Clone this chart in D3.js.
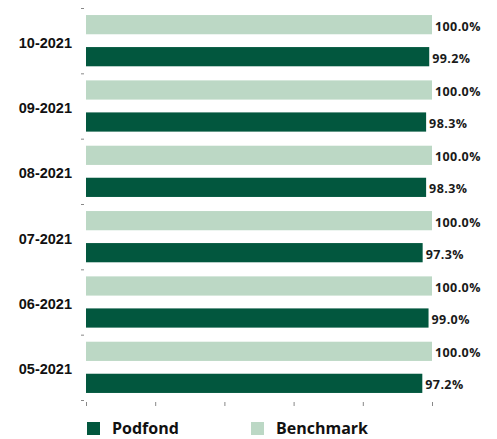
<!DOCTYPE html>
<html><head><meta charset="utf-8">
<script src="https://cdn.jsdelivr.net/npm/d3@7"></script>
<style>body{margin:0;background:#fff}svg{display:block}</style>
</head><body>
<svg id="c" width="497" height="439"></svg>
<script>
const categories = ["10-2021","09-2021","08-2021","07-2021","06-2021","05-2021"];
const podfond = [99.2, 98.3, 98.3, 97.3, 99.0, 97.2];
const benchmark = [100.0, 100.0, 100.0, 100.0, 100.0, 100.0];
const seriesNames = ["Benchmark","Podfond"];
const xTicks = [0,20,40,60,80,100];

const dark = "#02573e", light = "#bcd8c5";
const svg = d3.select("#c");
const x = d3.scaleLinear().domain([0,100]).range([86,432]);
const y = d3.scaleBand().domain(categories).range([8,400]);
const inner = d3.scaleBand().domain(seriesNames).range([0,y.bandwidth()]).paddingInner(0.4).paddingOuter(0.22);

const data = categories.map((c,i)=>({c, Benchmark: benchmark[i], Podfond: podfond[i]}));
const color = {Benchmark: light, Podfond: dark};

const edges = categories.map(c=>y(c)).concat([y.range()[1]]);
svg.append("g").selectAll("line").data(edges).join("line")
  .attr("x1",81).attr("x2",84).attr("y1",d=>d+0.5).attr("y2",d=>d+0.5)
  .attr("stroke","#888").attr("stroke-width",1);

const xAxis = d3.axisBottom(x).tickValues(xTicks).tickSize(4).tickFormat("");
const gx = svg.append("g").attr("transform","translate(0,402)").call(xAxis);
gx.select(".domain").remove();
gx.selectAll("line").attr("stroke","#888");

const g = svg.append("g").selectAll("g").data(data).join("g")
  .attr("transform",d=>`translate(0,${y(d.c)})`);
g.selectAll("rect").data(d=>seriesNames.map(s=>({s,v:d[s]}))).join("rect")
  .attr("x",x(0)).attr("y",d=>inner(d.s)).attr("height",inner.bandwidth())
  .attr("width",d=>x(d.v)-x(0)).attr("fill",d=>color[d.s]);
g.selectAll("text.v").data(d=>seriesNames.map(s=>({s,v:d[s]}))).join("text")
  .attr("class","v")
  .attr("x",d=>x(d.v)+3).attr("y",d=>inner(d.s)+inner.bandwidth()/2+1.5)
  .attr("dy","0.35em")
  .attr("font-family","Open Sans").attr("font-weight",700).attr("font-size",12.5)
  .attr("letter-spacing",0.4)
  .attr("fill","#1a1a1a")
  .text(d=>d.v.toFixed(1)+"%");

svg.append("g").selectAll("text").data(categories).join("text")
  .attr("x",72).attr("y",d=>y(d)+y.bandwidth()/2+2).attr("dy","0.35em")
  .attr("text-anchor","end")
  .attr("font-family","Liberation Sans, Arial").attr("font-weight","bold").attr("font-size",14.5)
  .attr("fill","#111").text(d=>d);

const legend = [{n:"Podfond",c:dark,x:87},{n:"Benchmark",c:light,x:251}];
const lg = svg.append("g").selectAll("g").data(legend).join("g")
  .attr("transform",d=>`translate(${d.x},422)`);
lg.append("rect").attr("width",13).attr("height",13).attr("fill",d=>d.c);
lg.append("text").attr("x",25).attr("y",6.5).attr("dy","0.35em")
  .attr("font-family","Open Sans").attr("font-weight",700).attr("font-size",16)
  .attr("fill","#111").text(d=>d.n);
</script>
</body></html>
